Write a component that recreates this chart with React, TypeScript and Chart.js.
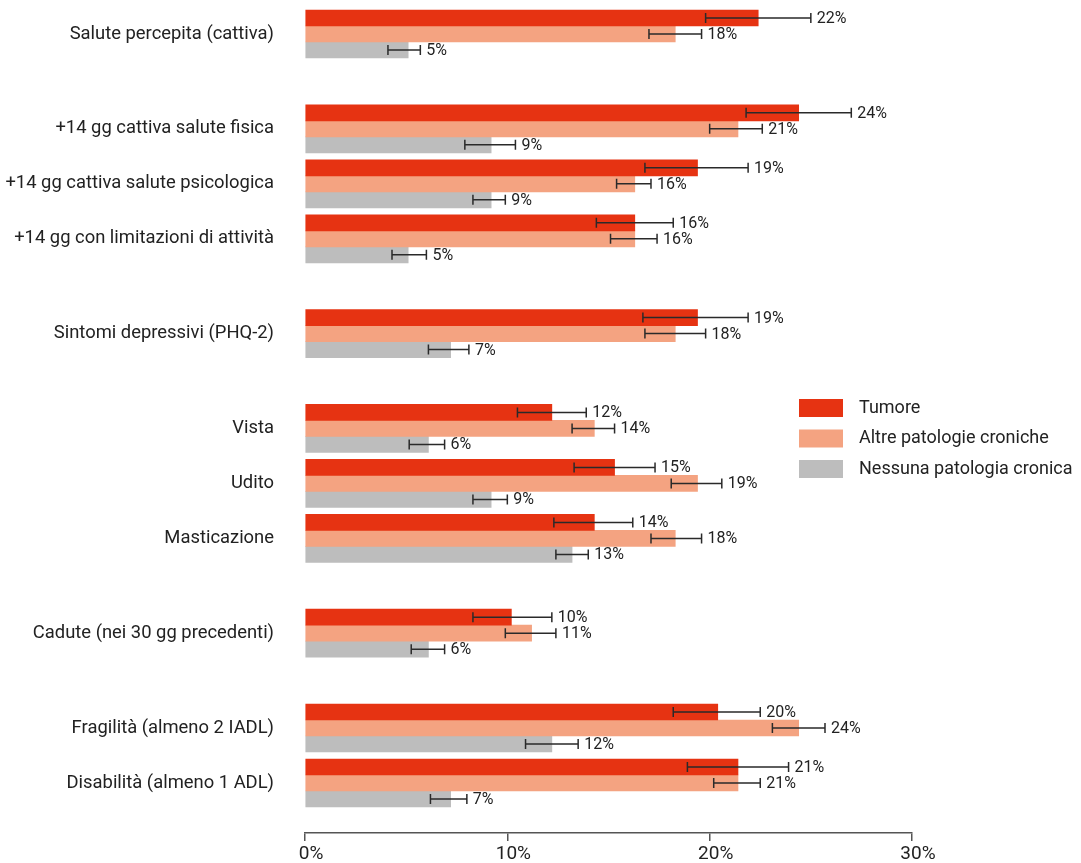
import React, { useEffect, useRef } from 'react';
import { Chart, registerables } from 'chart.js';

Chart.register(...registerables);

// ---------------- DATA ----------------
const categories = [
  'Salute percepita (cattiva)',
  '+14 gg cattiva salute fisica',
  '+14 gg cattiva salute psicologica',
  '+14 gg con limitazioni di attività',
  'Sintomi depressivi (PHQ-2)',
  'Vista',
  'Udito',
  'Masticazione',
  'Cadute (nei 30 gg precedenti)',
  'Fragilità (almeno 2 IADL)',
  'Disabilità (almeno 1 ADL)',
];
// thematic block each category belongs to
const groupOf = [0, 1, 1, 1, 2, 3, 3, 3, 4, 5, 5];

const seriesNames = ['Tumore', 'Altre patologie croniche', 'Nessuna patologia cronica'];

const tumore = [22.4, 24.4, 19.4, 16.3, 19.4, 12.2, 15.3, 14.3, 10.2, 20.4, 21.4];
const tumoreLow = [19.8, 21.8, 16.8, 14.4, 16.7, 10.5, 13.3, 12.3, 8.3, 18.2, 18.9];
const tumoreHigh = [25.0, 27.0, 21.9, 18.2, 21.9, 13.9, 17.3, 16.2, 12.2, 22.5, 23.9];

const altre = [18.3, 21.4, 16.3, 16.3, 18.3, 14.3, 19.4, 18.3, 11.2, 24.4, 21.4];
const altreLow = [17.0, 20.0, 15.4, 15.1, 16.8, 13.2, 18.1, 17.1, 9.9, 23.1, 20.2];
const altreHigh = [19.6, 22.6, 17.1, 17.4, 19.8, 15.3, 20.6, 19.6, 12.4, 25.7, 22.5];

const nessuna = [5.1, 9.2, 9.2, 5.1, 7.2, 6.1, 9.2, 13.2, 6.1, 12.2, 7.2];
const nessunaLow = [4.1, 7.9, 8.3, 4.3, 6.1, 5.15, 8.3, 12.4, 5.25, 10.9, 6.2];
const nessunaHigh = [5.7, 10.4, 9.9, 6.0, 8.1, 6.9, 10.0, 14.0, 6.9, 13.5, 8.0];

const xTickValues = [0, 10, 20, 30];

// ---------------- STYLE ----------------
const COLORS = ['#e63312', '#f4a381', '#bdbdbd'];
const TEXT = '#222222';
const FONT = 'Roboto';
const GROUP_GAP = 0.7236; // extra space between thematic blocks (in rows)

const positions = groupOf.map((g, i) => i + g * GROUP_GAP);

const errorBarPlugin = {
  id: 'errorBars',
  afterDatasetsDraw(chart: any) {
    const ctx = chart.ctx;
    const xScale = chart.scales.x;
    ctx.save();
    chart.data.datasets.forEach((ds: any, di: number) => {
      const meta = chart.getDatasetMeta(di);
      meta.data.forEach((bar: any, j: number) => {
        const lo = xScale.getPixelForValue(ds.errLow[j]);
        const hi = xScale.getPixelForValue(ds.errHigh[j]);
        const y = bar.y;
        ctx.strokeStyle = '#2a2a2a';
        ctx.lineWidth = 1.5;
        ctx.beginPath();
        ctx.moveTo(lo, y);
        ctx.lineTo(hi, y);
        ctx.moveTo(lo, y - 5);
        ctx.lineTo(lo, y + 5);
        ctx.moveTo(hi, y - 5);
        ctx.lineTo(hi, y + 5);
        ctx.stroke();
        ctx.fillStyle = TEXT;
        ctx.font = `16px ${FONT}`;
        ctx.textAlign = 'left';
        ctx.textBaseline = 'middle';
        ctx.fillText(Math.round(ds.data[j].x) + '%', hi + 6, y + 1);
      });
    });
    ctx.restore();
  },
};

const legendPlugin = {
  id: 'customLegend',
  afterDraw(chart: any) {
    const ctx = chart.ctx;
    ctx.save();
    chart.data.datasets.forEach((ds: any, i: number) => {
      const top = 399 + i * 30.5;
      ctx.fillStyle = ds.backgroundColor;
      ctx.fillRect(799, top, 44, 18);
      ctx.fillStyle = TEXT;
      ctx.font = `18px ${FONT}`;
      ctx.textAlign = 'left';
      ctx.textBaseline = 'middle';
      ctx.fillText(ds.label, 859, top + 9);
    });
    ctx.restore();
  },
};

export default function App() {
  const ref = useRef<HTMLCanvasElement | null>(null);

  useEffect(() => {
    if (!ref.current) return;
    const series = [
      [tumore, tumoreLow, tumoreHigh],
      [altre, altreLow, altreHigh],
      [nessuna, nessunaLow, nessunaHigh],
    ];
    const chart = new Chart(ref.current, {
      type: 'bar',
      data: {
        datasets: series.map(([vals, lo, hi], i) => ({
          label: seriesNames[i],
          data: vals.map((v, j) => ({ x: v, y: positions[j] })),
          errLow: lo,
          errHigh: hi,
          backgroundColor: COLORS[i],
          borderWidth: 0,
          barThickness: 16,
          clip: false,
        })) as any,
      },
      options: {
        indexAxis: 'y',
        responsive: false,
        animation: false,
        events: [],
        layout: { padding: { top: 20, right: 169, bottom: 0, left: 0 } },
        plugins: {
          legend: { display: false },
          tooltip: { enabled: false },
        },
        scales: {
          x: {
            type: 'linear',
            min: 0,
            max: 30,
            afterBuildTicks: (scale: any) => {
              scale.ticks = xTickValues.map((v) => ({ value: v }));
            },
            afterFit: (scale: any) => {
              scale.height = 30;
            },
            grid: {
              display: true,
              drawOnChartArea: false,
              drawTicks: true,
              tickLength: 8,
              color: '#555555',
              lineWidth: 1.5,
            },
            border: { display: true, color: '#555555', width: 1.5 },
            ticks: {
              padding: 2,
              labelOffset: 6,
              maxRotation: 0,
              color: TEXT,
              font: { family: FONT, size: 19 },
              callback: (v: any) => v + '%',
            },
          },
          y: {
            type: 'linear',
            reverse: true,
            offset: false,
            bounds: 'data',
            min: -0.2545,
            max: 14.527,
            afterBuildTicks: (scale: any) => {
              scale.ticks = positions.map((v) => ({ value: v }));
            },
            afterFit: (scale: any) => {
              scale.width = 305;
            },
            grid: {
              display: true,
              offset: false,
              drawOnChartArea: false,
              drawTicks: true,
              tickLength: 31,
              color: 'rgba(0,0,0,0)',
            },
            border: { display: false },
            ticks: {
              autoSkip: false,
              padding: 0,
              color: TEXT,
              font: { family: FONT, size: 18.4 },
              callback: (_v: any, idx: number) => categories[idx],
            },
          },
        },
      } as any,
      plugins: [errorBarPlugin, legendPlugin],
    });
    return () => chart.destroy();
  }, []);

  return (
    <div style={{ position: 'absolute', left: 0, top: 0, width: 1081, height: 863, background: '#ffffff' }}>
      <canvas ref={ref} width={1081} height={863} style={{ display: 'block' }} />
    </div>
  );
}
